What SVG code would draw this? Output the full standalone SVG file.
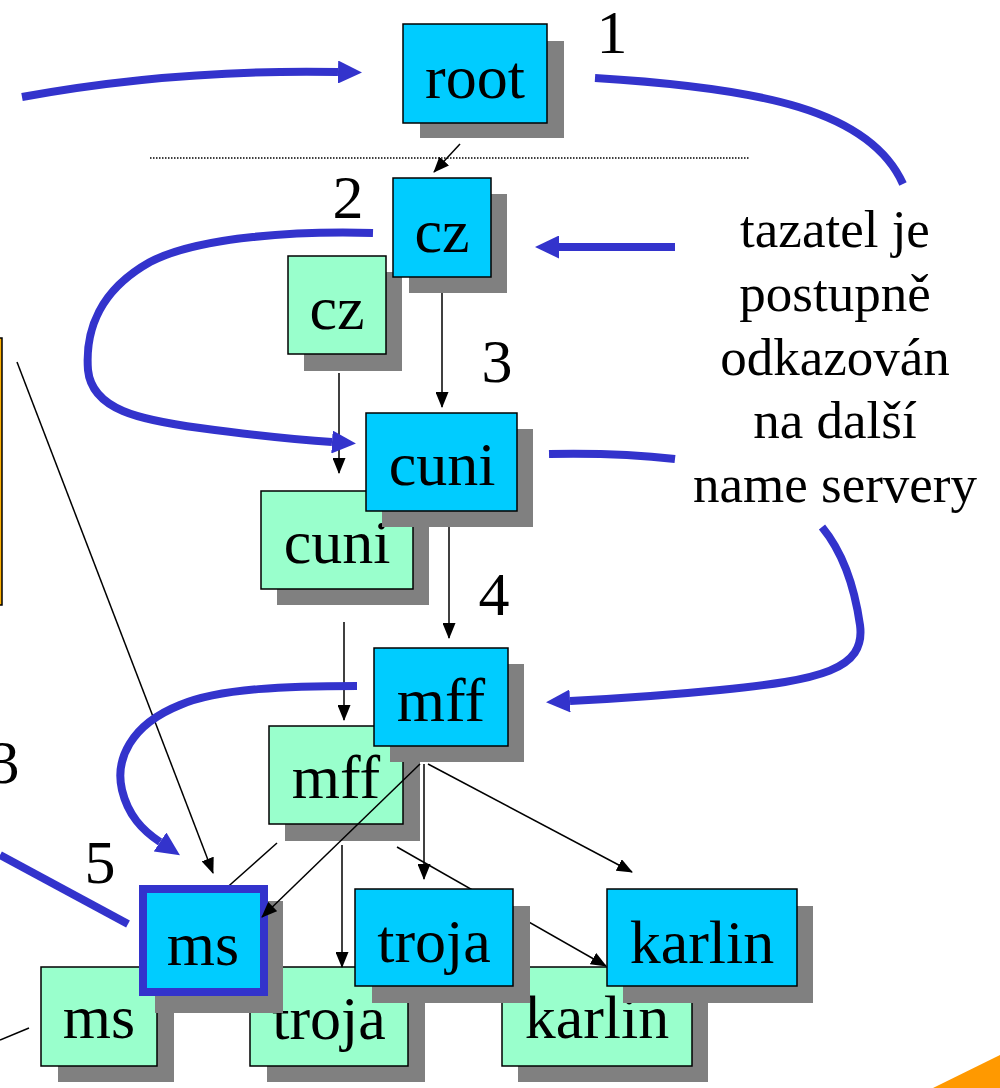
<svg xmlns="http://www.w3.org/2000/svg" width="1000" height="1088" viewBox="0 0 1000 1088">
<style>
.sh{fill:#808080}
.bl{fill:#00CCFF;stroke:#000;stroke-width:1.5}
.gr{fill:#99FFCC;stroke:#000;stroke-width:1.5}
.t{font-family:"Liberation Serif","Times New Roman",serif;font-size:62px;fill:#000;text-anchor:middle}
.n{font-family:"Liberation Serif","Times New Roman",serif;font-size:62px;fill:#000;text-anchor:middle}
.lab{font-family:"Liberation Serif","Times New Roman",serif;font-size:53px;fill:#000;text-anchor:middle}
.thin{fill:none;stroke:#000;stroke-width:1.5}
.big{fill:none;stroke:#3333CC;stroke-width:8}
</style>
<defs>
<marker id="ta" markerUnits="userSpaceOnUse" markerWidth="16" markerHeight="13" refX="15" refY="6.5" orient="auto" viewBox="0 0 16 13">
<path d="M0,0 L16,6.5 L0,13 z" fill="#000"/>
</marker>
<marker id="ba" markerUnits="userSpaceOnUse" markerWidth="24" markerHeight="23" refX="0" refY="11.5" orient="auto" viewBox="0 0 24 23">
<path d="M0,0 L24,11.5 L0,23 z" fill="#3333CC"/>
</marker>
</defs>
<rect width="1000" height="1088" fill="#fff"/>
<rect x="-20" y="338" width="22" height="267" fill="#FFB000" stroke="#000" stroke-width="1.5"/>
<polygon points="933,1088 1000,1055 1000,1088" fill="#FF9900"/>
<line x1="150" y1="158" x2="750" y2="158" stroke="#000" stroke-width="1.5" stroke-dasharray="1.5,1.5"/>

<g id="cz-green"><rect class="sh" x="304" y="272" width="98" height="99"/><rect class="gr" x="288" y="256" width="98" height="98"/><text class="t" x="337" y="329">cz</text></g>
<g id="cuni-green"><rect class="sh" x="277" y="507" width="152" height="98"/><rect class="gr" x="261" y="491" width="152" height="98"/><text class="t" x="337" y="563">cuni</text></g>
<g id="mff-green"><rect class="sh" x="285" y="742" width="135" height="99"/><rect class="gr" x="269" y="726" width="134" height="98"/><text class="t" x="336" y="798">mff</text></g>
<g id="ms-green"><rect class="sh" x="58" y="983" width="116" height="99"/><rect class="gr" x="41" y="967" width="116" height="99"/><text class="t" x="99" y="1038">ms</text></g>
<g id="troja-green"><rect class="sh" x="267" y="983" width="158" height="99"/><rect class="gr" x="250" y="967" width="158" height="99"/><text class="t" x="329" y="1039">troja</text></g>
<g id="karlin-green"><rect class="sh" x="518" y="983" width="190" height="99"/><rect class="gr" x="502" y="967" width="190" height="99"/><text class="t" x="597" y="1038">karlin</text></g>

<g id="connectors">
<path class="thin" d="M460,144 L434,172" marker-end="url(#ta)"/>
<path class="thin" d="M442,282 L442,407" marker-end="url(#ta)"/>
<path class="thin" d="M339,373 L339,473" marker-end="url(#ta)"/>
<path class="thin" d="M449,523 L449,638" marker-end="url(#ta)"/>
<path class="thin" d="M344,622 L344,720" marker-end="url(#ta)"/>
<path class="thin" d="M424,764 L424,879" marker-end="url(#ta)"/>
<path class="thin" d="M428,764 L632,872" marker-end="url(#ta)"/>
<path class="thin" d="M277,843 L150,956"/>
<path class="thin" d="M342,845 L342,967" marker-end="url(#ta)"/>
<path class="thin" d="M397,847 L606,966" marker-end="url(#ta)"/>
<path class="thin" d="M17,362 L213,873" marker-end="url(#ta)"/>
<path class="thin" d="M0,1040 L29,1028"/>
<path class="big" d="M22,97 C 120,79 230,70 338,72" marker-end="url(#ba)"/>
<path class="big" d="M595,78 C 760,88 870,110 903,184"/>
<path class="big" d="M675,247 L559,247" marker-end="url(#ba)"/>
<path class="big" d="M373,233 C 300,231 200,236 150,262 C 100,290 85,330 88,370 C 92,410 140,420 200,428 C 260,436 300,440 332,442" marker-end="url(#ba)"/>
<path class="big" d="M549,454 C 600,453 640,455 675,459"/>
<path class="big" d="M822,527 C 845,555 855,590 860,625 C 866,670 820,680 720,690 C 660,696 610,699 570,701" marker-end="url(#ba)"/>
<path class="big" d="M357,686 C 290,686 220,688 180,705 C 130,725 115,760 122,790 C 128,815 142,830 160,842" marker-end="url(#ba)"/>
<path class="big" d="M0,855 L128,924"/>
</g>

<g id="root"><rect class="sh" x="420" y="41" width="144" height="97"/><rect class="bl" x="403" y="24" width="144" height="99"/><text class="t" x="475" y="98">root</text></g>
<g id="cz-blue"><rect class="sh" x="409" y="194" width="98" height="99"/><rect class="bl" x="393" y="178" width="98" height="99"/><text class="t" x="442" y="252">cz</text></g>
<g id="cuni-blue"><rect class="sh" x="382" y="429" width="151" height="98"/><rect class="bl" x="366" y="413" width="151" height="98"/><text class="t" x="442" y="485">cuni</text></g>
<g id="mff-blue"><rect class="sh" x="390" y="664" width="134" height="98"/><rect class="bl" x="374" y="648" width="134" height="98"/><text class="t" x="441" y="721">mff</text></g>
<g id="ms-blue"><rect class="sh" x="155" y="901" width="128" height="112"/><rect x="143" y="889" width="121" height="103" fill="#00CCFF" stroke="#3333CC" stroke-width="8"/><text class="t" x="203" y="965">ms</text></g>
<g id="troja-blue"><rect class="sh" x="372" y="906" width="158" height="97"/><rect class="bl" x="355" y="889" width="158" height="97"/><text class="t" x="434" y="962">troja</text></g>
<g id="karlin-blue"><rect class="sh" x="623" y="906" width="190" height="97"/><rect class="bl" x="607" y="889" width="190" height="97"/><text class="t" x="702" y="963">karlin</text></g>

<path class="thin" d="M420,764 L262,917" marker-end="url(#ta)"/>

<g id="labels">
<text class="n" x="612" y="53">1</text>
<text class="n" x="348" y="218">2</text>
<text class="n" x="497" y="382">3</text>
<text class="n" x="494" y="615">4</text>
<text class="n" x="100" y="883">5</text>
<text class="n" x="4" y="783">3</text>
<text class="lab" x="835" y="247">tazatel je</text>
<text class="lab" x="835" y="311">postupně</text>
<text class="lab" x="835" y="375">odkazován</text>
<text class="lab" x="835" y="438">na další</text>
<text class="lab" x="835" y="502">name servery</text>
</g>
</svg>
